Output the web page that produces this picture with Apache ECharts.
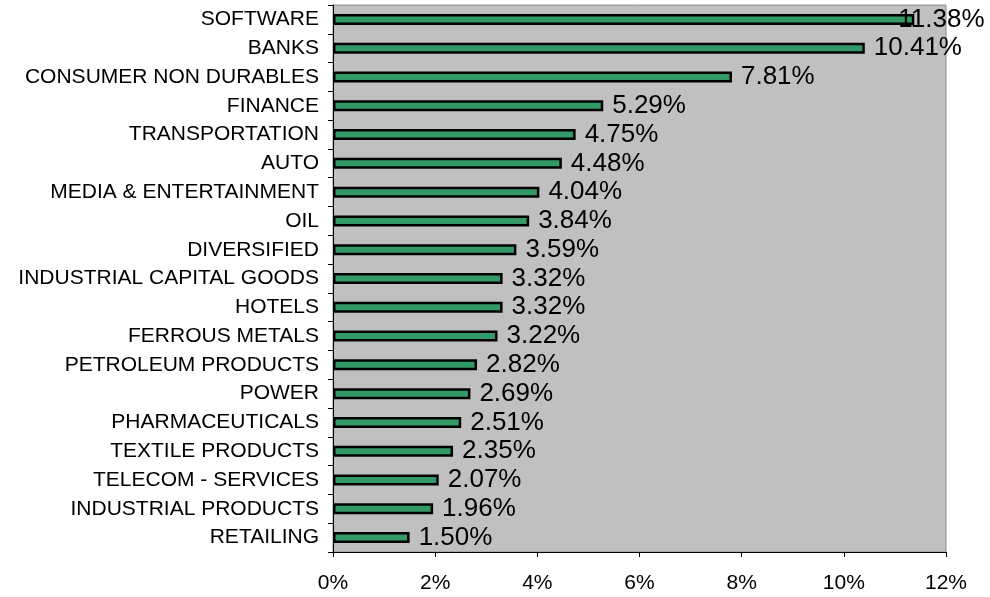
<!DOCTYPE html>
<html><head><meta charset="utf-8">
<script src="https://cdn.jsdelivr.net/npm/echarts@6/dist/echarts.min.js"></script>
<style>html,body{margin:0;padding:0;background:#fff}#c{width:990px;height:597px}</style>
</head><body><div id="c"></div>
<script>
const categories = ["SOFTWARE","BANKS","CONSUMER NON DURABLES","FINANCE","TRANSPORTATION","AUTO","MEDIA & ENTERTAINMENT","OIL","DIVERSIFIED","INDUSTRIAL CAPITAL GOODS","HOTELS","FERROUS METALS","PETROLEUM PRODUCTS","POWER","PHARMACEUTICALS","TEXTILE PRODUCTS","TELECOM - SERVICES","INDUSTRIAL PRODUCTS","RETAILING"];
const values = [11.38,10.41,7.81,5.29,4.75,4.48,4.04,3.84,3.59,3.32,3.32,3.22,2.82,2.69,2.51,2.35,2.07,1.96,1.50];
const font = 'Liberation Sans, Arial, sans-serif';
const chart = echarts.init(document.getElementById('c'));
chart.setOption({
  animation:false,
  grid:{left:333,right:44,top:5,bottom:45,show:true,backgroundColor:'#c0c0c0',borderColor:'#8c8c8c',borderWidth:1},
  xAxis:{type:'value',min:0,max:12,interval:2,
    axisLine:{show:true,lineStyle:{color:'#000',width:1}},
    axisTick:{show:true,length:5,lineStyle:{color:'#000'}},
    splitLine:{show:false},
    axisLabel:{formatter:v=>v+'%',color:'#000',fontSize:21,fontFamily:font,margin:21}},
  yAxis:{type:'category',data:categories,inverse:true,
    axisLine:{show:true,lineStyle:{color:'#000',width:1}},
    axisTick:{show:true,length:5,lineStyle:{color:'#000'}},
    axisLabel:{color:'#000',fontSize:21,fontFamily:font,margin:14}},
  series:[{type:'bar',data:values.map((v,i)=>i===0?{value:v,label:{offset:[-25,0]}}:v),barWidth:11,
    itemStyle:{color:'#339966',borderColor:'#000',borderWidth:2.5},
    label:{show:true,position:'right',distance:9,formatter:p=>p.value.toFixed(2)+'%',color:'#000',fontSize:26,fontFamily:font}}]
});
</script></body></html>
